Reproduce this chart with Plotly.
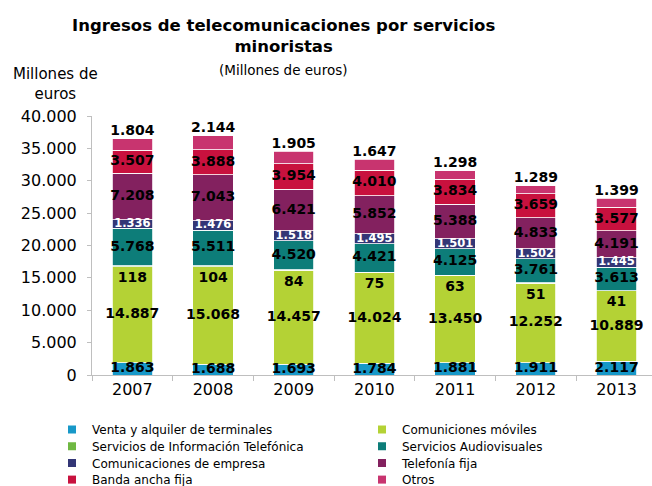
import plotly.graph_objects as go

years = ['2007', '2008', '2009', '2010', '2011', '2012', '2013']
venta = [1863, 1688, 1693, 1784, 1881, 1911, 2117]
moviles = [14887, 15068, 14457, 14024, 13450, 12252, 10889]
info = [118, 104, 84, 75, 63, 51, 41]
audiovisual = [5768, 5511, 4520, 4421, 4125, 3761, 3613]
empresa = [1336, 1476, 1518, 1495, 1501, 1502, 1445]
telefonia = [7208, 7043, 6421, 5852, 5388, 4833, 4191]
banda = [3507, 3888, 3954, 4010, 3834, 3659, 3577]
otros = [1804, 2144, 1905, 1647, 1298, 1289, 1399]

series_names = ['Venta y alquiler de terminales', 'Comuniciones móviles',
                'Servicios de Información Telefónica', 'Servicios Audiovisuales',
                'Comunicaciones de empresa', 'Telefonía fija',
                'Banda ancha fija', 'Otros']
series_values = [venta, moviles, info, audiovisual, empresa, telefonia, banda, otros]
colors = ['#1798c8', '#b4d235', '#6fb842', '#0d7d79', '#333676', '#83215f', '#c8113e', '#c8346f']
ytickvals = [0, 5000, 10000, 15000, 20000, 25000, 30000, 35000, 40000]
yticktext = ['0', '5.000', '10.000', '15.000', '20.000', '25.000', '30.000', '35.000', '40.000']

FONT = 'DejaVu Sans'
AXIS_GREY = '#bfbfbf'

# figure geometry (pixels)
W, H = 652, 486
L, R, T, B = 92, 0, 116, 111
PW, PH = W - L - R, H - T - B
YMAX = 40000


def px(x):
    return (x - L) / PW


def py(y):
    return (H - B - y) / PH


def fmt(v):
    return f"{v:,}".replace(',', '.')


fig = go.Figure()

# stacked bars
for name, vals, col in zip(series_names, series_values, colors):
    fig.add_trace(go.Bar(x=years, y=vals, name=name,
                         marker=dict(color=col, line=dict(color='white', width=0.8)),
                         showlegend=False, hoverinfo='skip'))

# cumulative bases
bases = []
cum = [0] * len(years)
for vals in series_values:
    bases.append(list(cum))
    cum = [c + v for c, v in zip(cum, vals)]

# label of the tiny "Información Telefónica" segment sits ~12 px inside the top of the mobile segment
info_offset = 12 * YMAX / PH

# value labels
for i, (name, vals) in enumerate(zip(series_names, series_values)):
    base = bases[i]
    if name == 'Otros':
        ys = [b + v for b, v in zip(base, vals)]
        pos = 'top center'
    elif name == 'Servicios de Información Telefónica':
        ys = [b - info_offset for b in base]
        pos = 'middle center'
    else:
        ys = [b + v / 2 for b, v in zip(base, vals)]
        pos = 'middle center'
    if name == 'Comunicaciones de empresa':
        tf = dict(family=FONT, size=11.5, color='white', weight='bold')
    else:
        tf = dict(family=FONT, size=14, color='black', weight='bold')
    fig.add_trace(go.Scatter(x=years, y=ys, mode='text', text=[fmt(v) for v in vals],
                             textposition=pos, textfont=tf, showlegend=False,
                             hoverinfo='skip', cliponaxis=False))

# legend entries: one small legend per entry, laid out in 2 columns x 4 rows
legend_ids = ['legend'] + [f'legend{k}' for k in range(2, 9)]
for k, (name, col) in enumerate(zip(series_names, colors)):
    fig.add_trace(go.Scatter(x=[None], y=[None], mode='markers', name=name,
                             legend=legend_ids[k],
                             marker=dict(symbol='square', size=8, color=col)))

legend_layout = {}
for k, lid in enumerate(legend_ids):
    col_i, row_i = k % 2, k // 2
    legend_layout[lid] = dict(
        orientation='v', yanchor='top', xanchor='left', itemwidth=30,
        x=px(52 if col_i == 0 else 362), y=py(415 + 16.7 * row_i),
        font=dict(family=FONT, size=12, color='black'),
        bgcolor='rgba(0,0,0,0)')

fig.update_layout(
    width=W, height=H,
    margin=dict(l=L, r=R, t=T, b=B, autoexpand=False),
    paper_bgcolor='white', plot_bgcolor='white',
    barmode='stack', bargap=0.5,
    font=dict(family=FONT, color='black'),
    xaxis=dict(type='category', range=[-0.5, 6.44], showline=True, linecolor=AXIS_GREY, linewidth=1,
               ticks='outside', tickson='boundaries', ticklen=5, tickcolor=AXIS_GREY,
               tickfont=dict(family=FONT, size=16, color='black'), showgrid=False),
    yaxis=dict(range=[0, YMAX], tickvals=ytickvals, ticktext=yticktext,
               showgrid=False, showline=True, linecolor=AXIS_GREY, linewidth=1, zeroline=False,
               ticks='outside', ticklen=4, tickcolor=AXIS_GREY, ticklabelstandoff=7,
               tickfont=dict(family=FONT, size=16, color='black')),
    annotations=[
        dict(text='<b>Ingresos de telecomunicaciones por servicios<br>minoristas</b>',
             x=px(283), y=py(35.5), xref='paper', yref='paper',
             xanchor='center', yanchor='middle', showarrow=False, align='center',
             font=dict(family=FONT, size=16.5, color='black')),
        dict(text='(Millones de euros)', x=px(283), y=py(70), xref='paper', yref='paper',
             xanchor='center', yanchor='middle', showarrow=False,
             font=dict(family=FONT, size=13.5, color='black')),
        dict(text='Millones de<br>euros', x=px(55), y=py(84), xref='paper', yref='paper',
             xanchor='center', yanchor='middle', showarrow=False, align='center',
             font=dict(family=FONT, size=15, color='black')),
    ],
    **legend_layout,
)

fig.write_html('out.html', config={'displayModeBar': False},
               post_script="document.body.style.margin='0px';")
